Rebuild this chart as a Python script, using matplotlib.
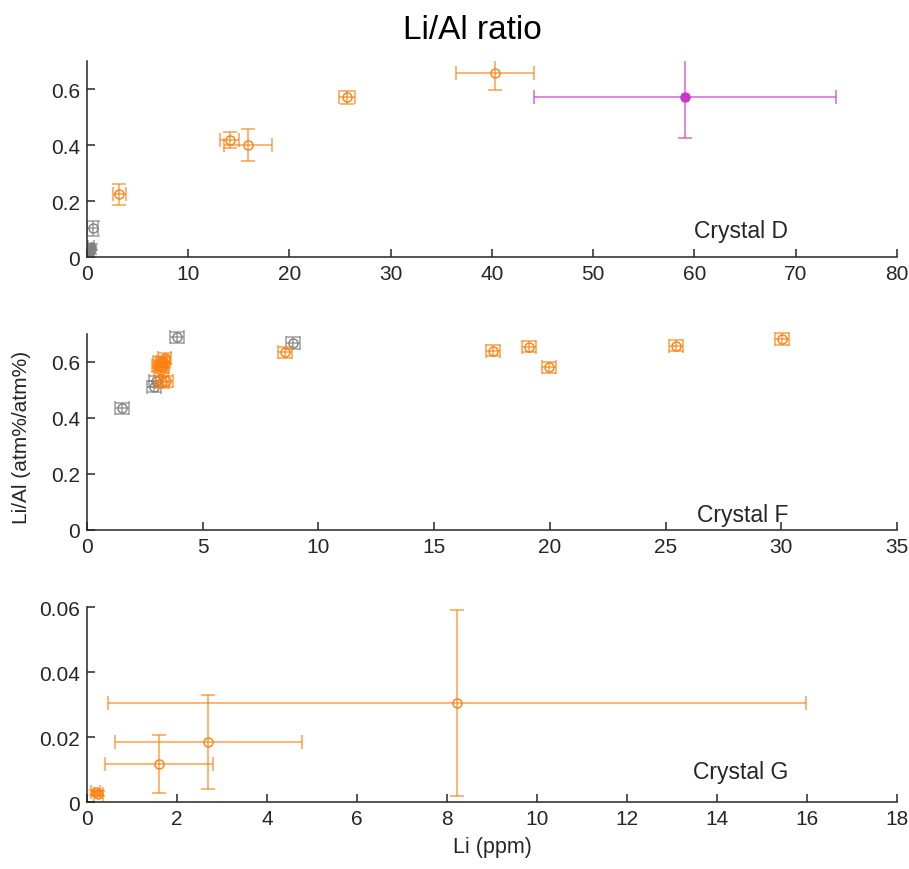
import numpy as np
import matplotlib
matplotlib.use('Agg')
import matplotlib.pyplot as plt
from matplotlib.ticker import FuncFormatter

plt.rcParams['font.family'] = ['Liberation Sans', 'DejaVu Sans']

ORANGE = '#ff7f0e'
GRAY = '#808080'
MAGENTA = '#cc33cc'
AXCOL = '#262626'

# Crystal D
d_or_x = [3.2, 14.1, 15.9, 25.7, 40.3]
d_or_y = [0.224, 0.418, 0.400, 0.571, 0.658]
d_or_xerr = [0.65, 0.95, 2.37, 0.8, 3.9]
d_or_yerr = [0.037, 0.028, 0.058, 0.023, 0.062]

d_gr_x = [0.56, 0.1, 0.2, 0.3, 0.4, 0.25]
d_gr_y = [0.102, 0.015, 0.025, 0.03, 0.035, 0.02]
d_gr_xerr = [0.55, 0.3, 0.3, 0.3, 0.3, 0.3]
d_gr_yerr = [0.026, 0.01, 0.01, 0.01, 0.01, 0.01]

d_mg_x = [59.06]
d_mg_y = [0.571]
d_mg_xerr = [14.9]
d_mg_yerr = [0.146]

# Crystal F
f_or_x = [3.15, 3.25, 3.1, 3.35, 3.3, 3.2, 3.25, 3.4, 8.56, 17.53, 19.1, 19.98, 25.44, 30.02]
f_or_y = [0.598, 0.58, 0.585, 0.612, 0.60, 0.57, 0.526, 0.53, 0.634, 0.639, 0.654, 0.58, 0.657, 0.681]
f_or_xerr = 0.3
f_or_yerr = 0.02

f_gr_x = [1.5, 3.88, 2.9, 3.0, 8.92]
f_gr_y = [0.434, 0.687, 0.51, 0.53, 0.667]
f_gr_xerr = 0.3
f_gr_yerr = 0.02

# Crystal G
g_or_x = [0.2, 0.25, 1.59, 2.70, 8.22]
g_or_y = [0.0030, 0.0026, 0.0117, 0.0185, 0.0305]
g_or_xerr = [0.1, 0.1, 1.2, 2.08, 7.75]
g_or_yerr = [0.0008, 0.0008, 0.0089, 0.0145, 0.0287]

fig = plt.figure(figsize=(9.09, 8.7), dpi=100)
ax1 = fig.add_axes([0.0957, 0.7034, 0.891, 0.2253])
ax2 = fig.add_axes([0.0957, 0.3900, 0.891, 0.2253])
ax3 = fig.add_axes([0.0957, 0.0770, 0.891, 0.2240])


def eb(ax, x, y, xe, ye, color, filled=False, clip=True):
    _, caps, bars = ax.errorbar(x, y, xerr=xe, yerr=ye, fmt='none', ecolor=color,
                                elinewidth=1.1, capsize=5, capthick=1.1, alpha=0.75)
    for a in list(caps) + list(bars):
        a.set_clip_on(clip)
    ax.plot(x, y, 'o', ms=6.5, mfc=color if filled else 'none', mec=color, mew=1.0,
            linestyle='none', clip_on=clip)


eb(ax1, d_gr_x, d_gr_y, d_gr_xerr, d_gr_yerr, GRAY)
eb(ax1, d_or_x, d_or_y, d_or_xerr, d_or_yerr, ORANGE)
eb(ax1, d_mg_x, d_mg_y, d_mg_xerr, d_mg_yerr, MAGENTA, filled=True)

eb(ax2, f_gr_x, f_gr_y, f_gr_xerr, f_gr_yerr, GRAY, clip=False)
eb(ax2, f_or_x, f_or_y, f_or_xerr, f_or_yerr, ORANGE, clip=False)

eb(ax3, g_or_x, g_or_y, g_or_xerr, g_or_yerr, ORANGE)

fmt = FuncFormatter(lambda v, p: '%g' % round(v, 4))
setup = [
    (ax1, (0, 80), np.arange(0, 81, 10), (0, 0.7), [0, 0.2, 0.4, 0.6], 'Crystal D', 0.135),
    (ax2, (0, 35), np.arange(0, 36, 5), (0, 0.7), [0, 0.2, 0.4, 0.6], 'Crystal F', 0.075),
    (ax3, (0, 18), np.arange(0, 19, 2), (0, 0.06), [0, 0.02, 0.04, 0.06], 'Crystal G', 0.155),
]
for ax, xl, xt, yl, yt, name, ty in setup:
    ax.set_xlim(*xl)
    ax.set_ylim(*yl)
    ax.set_xticks(xt)
    ax.set_yticks(yt)
    ax.xaxis.set_major_formatter(fmt)
    ax.yaxis.set_major_formatter(fmt)
    for s in ['top', 'right']:
        ax.spines[s].set_visible(False)
    for s in ['left', 'bottom']:
        ax.spines[s].set_color(AXCOL)
        ax.spines[s].set_linewidth(1.1)
    ax.tick_params(direction='in', length=6, width=1.1, color=AXCOL,
                   labelsize=15, labelcolor=AXCOL, pad=5)
    ax.text(0.866, ty, name, transform=ax.transAxes, ha='right', va='center',
            fontsize=16.5, color=AXCOL)

ax3.set_xlabel('Li (ppm)', fontsize=15.5, color=AXCOL, labelpad=6)
fig.text(0.024, 0.497, 'Li/Al (atm%/atm%)', rotation=90, ha='center', va='center',
         fontsize=15, color=AXCOL)
fig.text(0.52, 0.965, 'Li/Al ratio', ha='center', va='center', fontsize=24, color='black')

fig.savefig('out.png', dpi=100)
